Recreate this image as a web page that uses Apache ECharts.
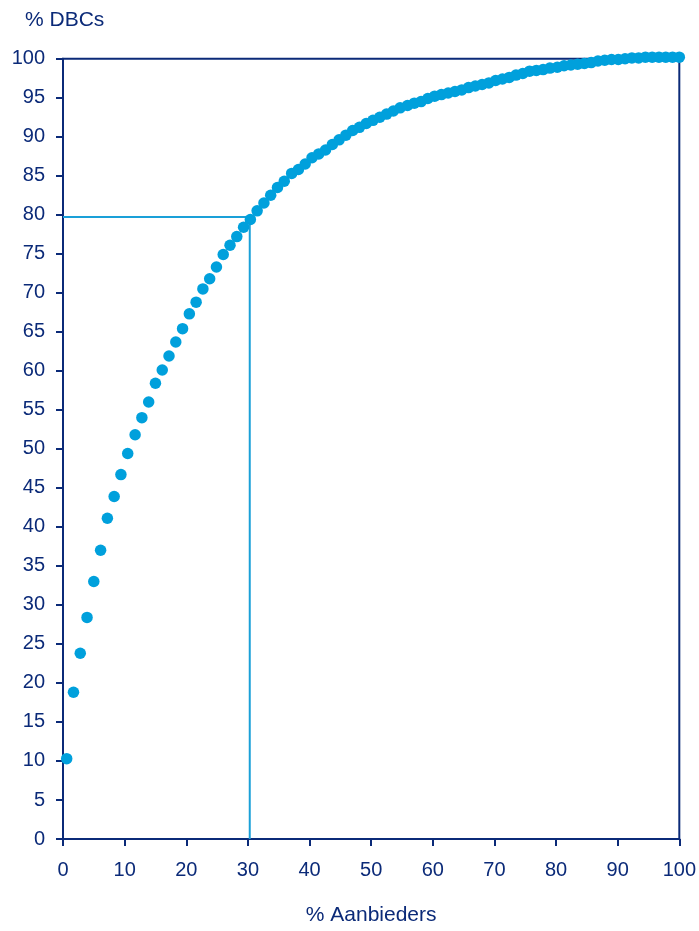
<!DOCTYPE html>
<html>
<head>
<meta charset="utf-8">
<script src="https://cdn.jsdelivr.net/npm/echarts@6/dist/echarts.min.js"></script>
<style>
html,body{margin:0;padding:0;background:#fff;overflow:hidden;}
#c{width:699px;height:931px;}
</style>
</head>
<body>
<div id="c"></div>
<script>
// % Aanbieders (x)
var pctAanbieders = [
  0.6, 1.7, 2.8, 3.9, 5.0, 6.1, 7.2, 8.3, 9.4, 10.5,
  11.7, 12.8, 13.9, 15.0, 16.1, 17.2, 18.3, 19.4, 20.5, 21.6,
  22.7, 23.8, 24.9, 26.0, 27.1, 28.2, 29.3, 30.4, 31.5, 32.6,
  33.7, 34.8, 35.9, 37.1, 38.2, 39.3, 40.4, 41.5, 42.6, 43.7,
  44.8, 45.9, 47.0, 48.1, 49.2, 50.3, 51.4, 52.5, 53.6, 54.7,
  55.9, 57.0, 58.1, 59.2, 60.3, 61.4, 62.5, 63.6, 64.7, 65.8,
  66.9, 68.0, 69.1, 70.2, 71.3, 72.4, 73.5, 74.6, 75.7, 76.8,
  77.9, 79.0, 80.2, 81.3, 82.4, 83.5, 84.6, 85.7, 86.8, 87.9,
  89.0, 90.1, 91.2, 92.3, 93.4, 94.5, 95.6, 96.7, 97.8, 98.9,
  100.0
];
// % DBCs (y)
var pctDBCs = [
  10.3, 18.8, 23.8, 28.4, 33.0, 37.0, 41.1, 43.9, 46.7, 49.4,
  51.8, 54.0, 56.0, 58.4, 60.1, 61.9, 63.7, 65.4, 67.3, 68.8,
  70.5, 71.8, 73.3, 74.9, 76.1, 77.2, 78.4, 79.4, 80.5, 81.5,
  82.5, 83.5, 84.3, 85.3, 85.8, 86.5, 87.3, 87.8, 88.3, 89.0,
  89.6, 90.2, 90.8, 91.2, 91.7, 92.1, 92.5, 92.9, 93.3, 93.7,
  94.0, 94.3, 94.5, 94.9, 95.2, 95.4, 95.6, 95.8, 96.0, 96.3,
  96.5, 96.7, 96.9, 97.2, 97.4, 97.6, 97.9, 98.1, 98.4, 98.5,
  98.6, 98.8, 98.9, 99.1, 99.2, 99.3, 99.4, 99.5, 99.7, 99.8,
  99.9, 99.9, 100.0, 100.1, 100.1, 100.2, 100.2, 100.2, 100.2, 100.2,
  100.2
];
// reference (80% of DBCs at ~30% of providers)
var refX = 30.3;
var refY = 79.7;
var xTicks = [0, 100, 10];   // min, max, interval
var yTicks = [0, 100, 5];

var navy = '#0B2A78';
var dotColor = '#00A0DC';
var font = 'Liberation Sans, Arial, sans-serif';

var points = pctAanbieders.map(function (x, i) { return [x, pctDBCs[i]]; });
var refLine = [[0, refY], [refX, refY], [refX, 0]];

var chart = echarts.init(document.getElementById('c'), null, {renderer: 'canvas', width: 699, height: 931});
chart.setOption({
  animation: false,
  backgroundColor: '#ffffff',
  title: {
    text: '% DBCs',
    left: 20, top: 5,
    textStyle: {color: navy, fontSize: 21, fontWeight: 'normal', fontFamily: font}
  },
  grid: {
    left: 63, top: 58.7, width: 618, height: 787.6,
    show: true, borderColor: navy, borderWidth: 2, backgroundColor: 'transparent'
  },
  xAxis: {
    type: 'value', min: xTicks[0], max: xTicks[1], interval: xTicks[2],
    name: '% Aanbieders', nameLocation: 'middle', nameGap: 66,
    nameTextStyle: {color: navy, fontSize: 21, fontFamily: font},
    axisLine: {show: true, lineStyle: {color: navy, width: 2}},
    axisTick: {show: true, inside: false, length: 7, lineStyle: {color: navy, width: 2}},
    axisLabel: {color: navy, fontSize: 20, fontFamily: font, margin: 21},
    splitLine: {show: false}
  },
  yAxis: {
    type: 'value', min: yTicks[0], max: yTicks[1], interval: yTicks[2],
    axisLine: {show: true, lineStyle: {color: navy, width: 2}},
    axisTick: {show: true, inside: false, length: 7, lineStyle: {color: navy, width: 2}},
    axisLabel: {color: navy, fontSize: 20, fontFamily: font, margin: 18},
    splitLine: {show: false}
  },
  series: [
    {
      type: 'line',
      data: refLine,
      showSymbol: false,
      symbol: 'none',
      lineStyle: {color: '#1AA0D8', width: 2},
      z: 1,
      silent: true
    },
    {
      type: 'scatter',
      data: points,
      symbol: 'circle',
      symbolSize: 11.5,
      clip: false,
      itemStyle: {color: dotColor, opacity: 1},
      z: 3
    }
  ]
});
</script>
</body>
</html>
